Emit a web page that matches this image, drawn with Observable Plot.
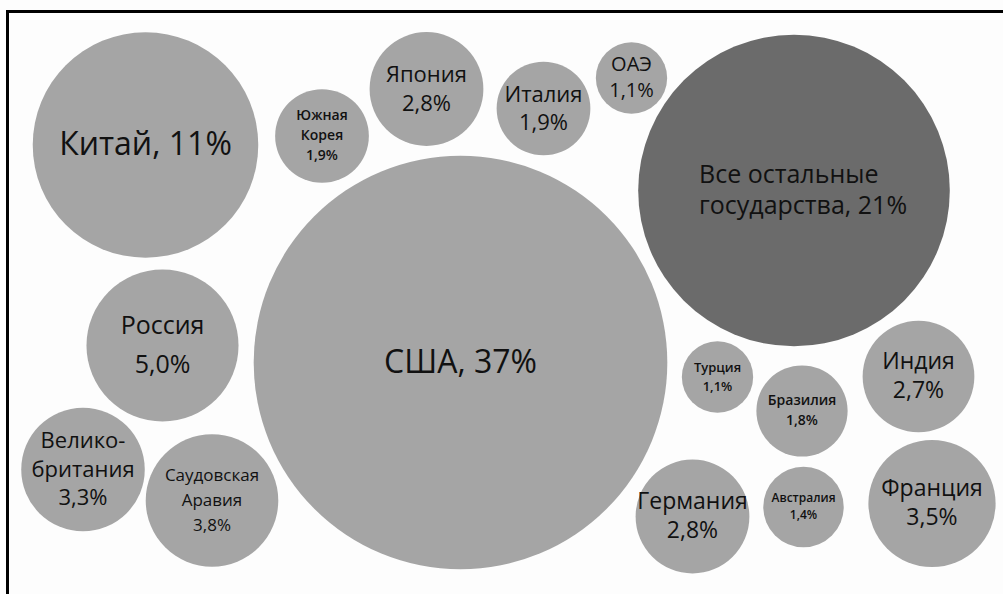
<!DOCTYPE html>
<html>
<head>
<meta charset="utf-8">
<script src="https://cdn.jsdelivr.net/npm/d3@7"></script>
<script src="https://cdn.jsdelivr.net/npm/@observablehq/plot@0.6"></script>
<style>
  html, body { margin: 0; padding: 0; background: #fdfdfd; }
  #wrap { position: relative; width: 1003px; height: 594px; overflow: hidden; }
  #frame { position: absolute; left: 6px; top: 10px; width: 1010px; height: 600px;
           border-top: 3px solid #000; border-left: 3px solid #000; pointer-events: none; }
  svg { display: block; }
</style>
</head>
<body>
<div id="wrap"><div id="chart"></div><div id="frame"></div></div>
<script>
// Shares of world military spending (%)
const countries = ["США", "Китай", "Все остальные государства", "Россия", "Саудовская Аравия",
  "Франция", "Великобритания", "Япония", "Германия", "Индия", "Южная Корея", "Италия",
  "Бразилия", "Австралия", "Турция", "ОАЭ"];
const shares = [37, 11, 21, 5.0, 3.8, 3.5, 3.3, 2.8, 2.8, 2.7, 1.9, 1.9, 1.8, 1.4, 1.1, 1.1];
const labelLines = [
  ["США, 37%"], ["Китай, 11%"], ["Все остальные", "государства, 21%"], ["Россия", "5,0%"],
  ["Саудовская", "Аравия", "3,8%"], ["Франция", "3,5%"], ["Велико-", "британия", "3,3%"],
  ["Япония", "2,8%"], ["Германия", "2,8%"], ["Индия", "2,7%"], ["Южная", "Корея", "1,9%"],
  ["Италия", "1,9%"], ["Бразилия", "1,8%"], ["Австралия", "1,4%"], ["Турция", "1,1%"], ["ОАЭ", "1,1%"]
];
// bubble layout positions (layout units)
const posX = [460, 145, 793.5, 162, 211.5, 931.5, 82.5, 426, 692, 918, 321.5, 543, 801.5, 803, 717, 631];
const posY = [362, 144.5, 190, 345, 500, 503, 469, 88.5, 516, 376, 135.5, 108, 410.5, 506.5, 376.5, 77.5];
// label styles
const fontSizes = [32, 32, 25, 25, 17, 23, 22, 22, 23, 23, 14, 22, 14, 12, 13, 20];
const lineGaps = [0, 0, 31.5, 39, 25, 29, 28.5, 29, 29, 29, 20, 28, 20, 17, 19, 26];
const fills = countries.map(c => c === "Все остальные государства" ? "#6b6b6b" : "#a5a5a5");

const bubbles = countries.map((c, i) => ({country: c, share: shares[i], x: posX[i], y: posY[i], fill: fills[i]}));
const lines = [];
countries.forEach((c, i) => {
  const n = labelLines[i].length;
  labelLines[i].forEach((t, j) => {
    lines.push({country: c, text: t, x: posX[i], y: posY[i] + (j - (n - 1) / 2) * lineGaps[i], size: fontSizes[i]});
  });
});
const others = "Все остальные государства";
const isSmall = d => d.size <= 15;

const chart = Plot.plot({
  width: 1003,
  height: 594,
  margin: 0,
  style: {background: "transparent", fontFamily: "'Open Sans', 'Noto Sans', sans-serif"},
  x: {domain: [0, 1003], range: [0, 1003], axis: null},
  y: {domain: [0, 594], range: [0, 594], axis: null},
  r: {domain: [0, 37], range: [0, 34 * Math.sqrt(37)]},
  marks: [
    Plot.dot(bubbles, {x: "x", y: "y", r: "share", fill: "fill", stroke: "none"}),
    Plot.text(lines.filter(d => d.country !== others && !isSmall(d)), {
      x: "x", y: "y", text: "text", fontSize: "size", fill: "#111", textAnchor: "middle"
    }),
    Plot.text(lines.filter(d => d.country !== others && isSmall(d)), {
      x: "x", y: "y", text: "text", fontSize: "size", fill: "#111", textAnchor: "middle", fontWeight: 600
    }),
    Plot.text(lines.filter(d => d.country === others), {
      x: "x", y: "y", text: "text", fontSize: "size", fill: "#111", textAnchor: "start", dx: -95
    })
  ]
});
document.getElementById("chart").appendChild(chart);
</script>
</body>
</html>
